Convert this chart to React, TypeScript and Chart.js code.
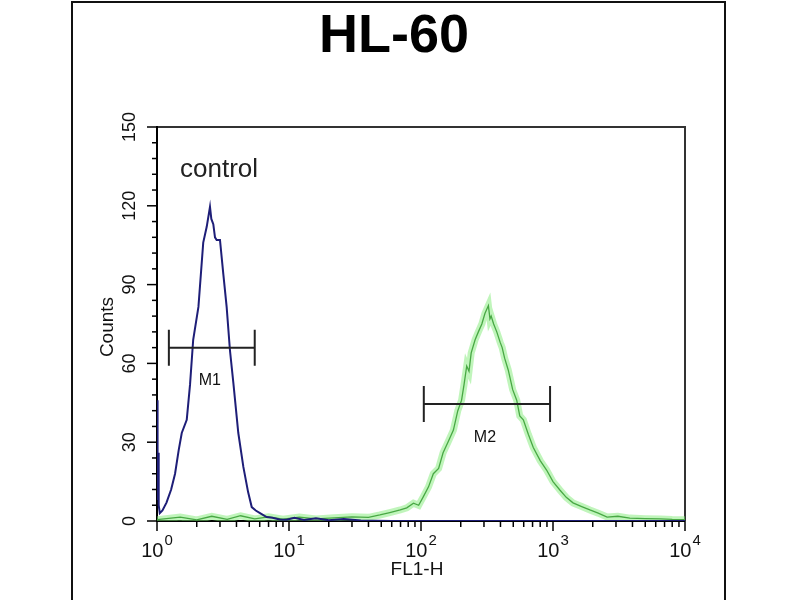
import { useEffect, useRef } from 'react'
import { Chart, registerables } from 'chart.js'

Chart.register(...registerables)

// control (blue) histogram: FL1-H channel value / counts
const CONTROL_X = [1, 1.005, 1.01, 1.015, 1.02, 1.03, 1.05, 1.1, 1.18, 1.28, 1.37, 1.46, 1.54, 1.68, 1.78, 1.88, 2.06, 2.24, 2.38, 2.52, 2.58, 2.67, 2.75, 2.83, 3.0, 3.18, 3.37, 3.57, 3.79, 4.13, 4.51, 4.9, 5.22, 5.6, 6.03, 6.77, 7.5, 8.5, 9.6, 11, 13, 16, 20, 26, 35, 60, 100, 400, 1000, 10000]
const CONTROL_Y = [46, 12, 30, 8, 26, 6, 3, 4, 7, 12, 18, 27, 33.5, 38.5, 52, 69, 81.5, 106, 112, 119.6, 115, 113, 108, 107, 107, 94, 81.5, 65, 52.5, 33.5, 20.6, 11, 5.3, 4, 3, 1.5, 1.2, 0.6, 0.5, 1.2, 0.4, 1, 0.3, 0.8, 0.2, 0, 0, 0, 0, 0]

// sample (green) histogram
const SAMPLE_X = [1, 1.5, 2, 2.6, 3.4, 4.3, 5.5, 7, 9, 12, 16, 22, 30, 40, 48.8, 58, 69.6, 78, 87.7, 96, 104, 114, 124, 136, 147, 160, 176, 190, 203, 212, 222, 231, 240, 257, 272, 289, 305, 324, 333, 340, 355, 375, 398, 412, 430, 458, 495, 531, 560, 596, 650, 709, 800, 894, 1000, 1127, 1260, 1418, 1650, 1903, 2200, 2570, 3100, 3820, 5000, 6500, 8000, 10000]
const SAMPLE_Y = [0.5, 1.5, 0.4, 1.8, 0.6, 2, 0.8, 1.6, 0.7, 1.5, 0.8, 1.2, 1.6, 1.4, 2.3, 3.2, 4.2, 5, 6.8, 6, 9.2, 13, 18, 20, 26, 30, 34.6, 42, 46, 52, 59, 57, 64, 69, 72, 75, 79, 82, 77, 78, 75, 72, 68, 66, 62, 57.5, 50, 46, 40, 38.5, 33, 28, 23, 19.4, 15, 11.8, 9, 6.9, 5.5, 4.2, 3, 1.5, 1.8, 1.1, 0.9, 0.8, 0.6, 0.5]

const Y_TICKS = [0, 30, 60, 90, 120, 150]
const X_DECADES = [1, 10, 100, 1000, 10000]
const X_EXPONENTS = ['0', '1', '2', '3', '4']

// gates: [label, from, to, count level]
const GATES: [string, number, number, number][] = [
  ['M1', 1.23, 5.5, 66],
  ['M2', 105, 950, 44.5],
]

const FONT = '"Liberation Sans", Arial, sans-serif'

const decor = {
  id: 'decor',
  beforeDraw(chart: Chart) {
    const ctx = chart.ctx
    ctx.save()
    ctx.fillStyle = '#fff'
    ctx.fillRect(0, 0, chart.width, chart.height)
    ctx.strokeStyle = '#111'
    ctx.lineWidth = 2
    ctx.strokeRect(72, 2, 653, 700)
    ctx.restore()
  },
  beforeDatasetsDraw(chart: Chart) {
    const ctx = chart.ctx
    const xs = chart.scales.x
    const ys = chart.scales.y
    const { left, right, top, bottom } = chart.chartArea
    ctx.save()

    // frame of the plot
    ctx.strokeStyle = '#333'
    ctx.lineWidth = 2
    ctx.beginPath()
    ctx.moveTo(left, top); ctx.lineTo(right, top); ctx.lineTo(right, bottom)
    ctx.stroke()
    ctx.strokeStyle = '#000'
    ctx.beginPath()
    ctx.moveTo(left, top - 1); ctx.lineTo(left, bottom); ctx.lineTo(right, bottom)
    ctx.stroke()

    // y ticks
    ctx.lineWidth = 1.5
    for (let v = 0; v <= 150; v += 6) {
      const py = ys.getPixelForValue(v)
      const len = v % 30 === 0 ? 10 : 5
      ctx.beginPath(); ctx.moveTo(left, py); ctx.lineTo(left - len, py); ctx.stroke()
    }

    // x ticks
    X_DECADES.forEach((d, i) => {
      const px = xs.getPixelForValue(d)
      ctx.beginPath(); ctx.moveTo(px, bottom); ctx.lineTo(px, bottom + 10); ctx.stroke()
      if (i < X_DECADES.length - 1) {
        for (let k = 2; k <= 9; k++) {
          const mx = xs.getPixelForValue(d * k)
          ctx.beginPath(); ctx.moveTo(mx, bottom); ctx.lineTo(mx, bottom + 6); ctx.stroke()
        }
      }
    })
    ctx.restore()
  },
  afterDraw(chart: Chart) {
    const ctx = chart.ctx
    const xs = chart.scales.x
    const ys = chart.scales.y
    ctx.save()

    ctx.fillStyle = '#111'
    ctx.font = `18px ${FONT}`
    ctx.textAlign = 'center'
    ctx.textBaseline = 'middle'
    Y_TICKS.forEach(v => {
      const py = ys.getPixelForValue(v)
      ctx.save(); ctx.translate(130, py); ctx.rotate(-Math.PI / 2)
      ctx.fillText(String(v), 0, 0); ctx.restore()
    })

    X_DECADES.forEach((d, i) => {
      const px = xs.getPixelForValue(d)
      ctx.font = `20px ${FONT}`
      const w1 = ctx.measureText('10').width
      ctx.font = `15px ${FONT}`
      const w2 = ctx.measureText(X_EXPONENTS[i]).width
      const x0 = px - (w1 + w2 + 1) / 2
      ctx.textAlign = 'left'
      ctx.textBaseline = 'alphabetic'
      ctx.font = `20px ${FONT}`
      ctx.fillText('10', x0, 557)
      ctx.font = `15px ${FONT}`
      ctx.fillText(X_EXPONENTS[i], x0 + w1 + 1, 545)
    })

    // axis titles
    ctx.textAlign = 'center'
    ctx.textBaseline = 'middle'
    ctx.font = `19px ${FONT}`
    ctx.fillText('FL1-H', 417, 570)
    ctx.save(); ctx.translate(108, 327); ctx.rotate(-Math.PI / 2)
    ctx.fillText('Counts', 0, 0); ctx.restore()

    // gates
    ctx.strokeStyle = '#222'
    ctx.lineWidth = 2
    GATES.forEach(([label, a, b, lvl]) => {
      const x1 = xs.getPixelForValue(a)
      const x2 = xs.getPixelForValue(b)
      const py = ys.getPixelForValue(lvl)
      ctx.beginPath()
      ctx.moveTo(x1, py); ctx.lineTo(x2, py)
      ctx.moveTo(x1, py - 18); ctx.lineTo(x1, py + 18)
      ctx.moveTo(x2, py - 18); ctx.lineTo(x2, py + 18)
      ctx.stroke()
      ctx.font = `16px ${FONT}`
      ctx.fillStyle = '#111'
      ctx.fillText(label, xs.getPixelForValue(Math.sqrt(a * b)) - 2, py + 33)
    })

    // labels
    ctx.fillStyle = '#222'
    ctx.textAlign = 'left'
    ctx.textBaseline = 'alphabetic'
    ctx.font = `26px ${FONT}`
    ctx.fillText('control', 180, 177)
    ctx.fillStyle = '#000'
    ctx.textAlign = 'center'
    ctx.font = `bold 54px ${FONT}`
    ctx.fillText('HL-60', 394, 52)
    ctx.restore()
  },
}

export default function App() {
  const canvasRef = useRef<HTMLCanvasElement>(null)
  const chartRef = useRef<Chart | null>(null)

  useEffect(() => {
    if (!canvasRef.current) return
    if (chartRef.current) chartRef.current.destroy()

    const control = CONTROL_X.map((x, i) => ({ x, y: CONTROL_Y[i] }))
    const sample = SAMPLE_X.map((x, i) => ({ x, y: SAMPLE_Y[i] }))

    chartRef.current = new Chart(canvasRef.current, {
      type: 'line',
      data: {
        datasets: [
          { data: control, borderColor: '#1e1e78', borderWidth: 2, pointRadius: 0, tension: 0 },
          { data: sample, borderColor: '#48a844', borderWidth: 1.3, pointRadius: 0, tension: 0 },
          { data: sample, borderColor: 'rgba(130,235,120,0.5)', borderWidth: 7, pointRadius: 0, tension: 0 },
        ],
      },
      options: {
        responsive: false,
        animation: false,
        devicePixelRatio: 1,
        layout: { padding: { left: 157, right: 115, top: 127, bottom: 79 } },
        scales: {
          x: { type: 'logarithmic', min: 1, max: 10000, display: false },
          y: { type: 'linear', min: 0, max: 150, display: false },
        },
        plugins: { legend: { display: false }, tooltip: { enabled: false } },
      },
      plugins: [decor],
    })

    return () => { chartRef.current?.destroy() }
  }, [])

  return (
    <div style={{ position: 'fixed', left: 0, top: 0, width: 800, height: 600, background: '#fff' }}>
      <canvas ref={canvasRef} width={800} height={600} />
    </div>
  )
}
